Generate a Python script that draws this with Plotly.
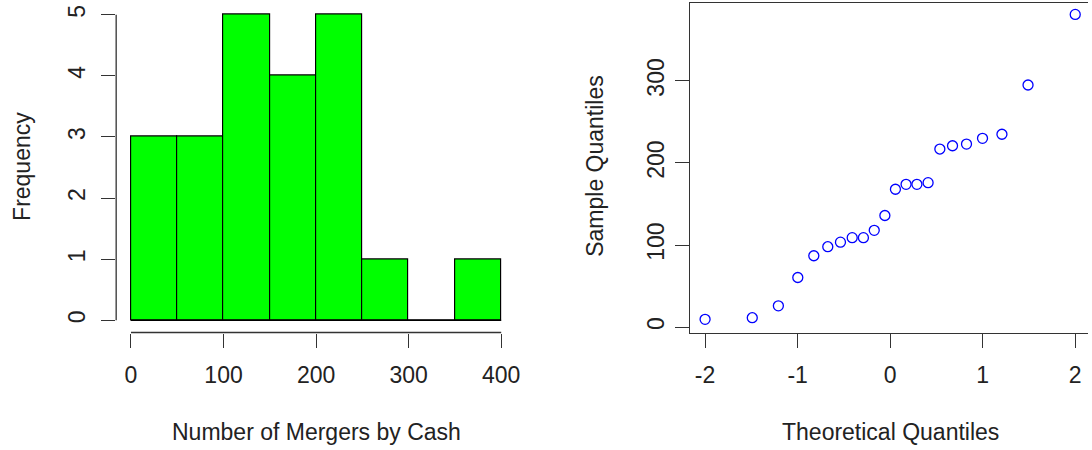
import plotly.graph_objects as go

# ---- data ----
bin_edges = [0, 50, 100, 150, 200, 250, 300, 350, 400]
hist_counts = [3, 3, 5, 4, 5, 1, 0, 1]
hist_xticks = [0, 100, 200, 300, 400]
hist_yticks = [0, 1, 2, 3, 4, 5]

theoretical_q = [-2.000, -1.490, -1.208, -0.998, -0.825, -0.674, -0.537, -0.410,
                 -0.289, -0.172, -0.057, 0.057, 0.172, 0.289, 0.410, 0.537,
                 0.674, 0.825, 0.998, 1.208, 1.490, 2.000]
sample_q = [9.5, 11.5, 26, 60.5, 87, 98, 103.5, 109, 109, 118, 136, 168,
            174, 174, 176, 217, 221, 223, 230, 235, 295, 381]
qq_xtick_vals = [-2, -1, 0, 1, 2]
qq_xtick_text = ["-2", "-1", "0", "1", "2"]
qq_yticks = [0, 100, 200, 300]

FONT = "Liberation Sans, Arial, sans-serif"
FS = 23
AX = "#333333"
W, H = 1092, 450

centers = [(a + b) / 2 for a, b in zip(bin_edges[:-1], bin_edges[1:])]
widths = [b - a for a, b in zip(bin_edges[:-1], bin_edges[1:])]

fig = go.Figure()
fig.add_trace(go.Bar(x=centers, y=hist_counts, width=widths,
                     marker=dict(color="#00FF00", line=dict(color="#000000", width=1.2)),
                     xaxis="x", yaxis="y", showlegend=False, hoverinfo="x+y"))
fig.add_trace(go.Scatter(x=theoretical_q, y=sample_q, mode="markers",
                         marker=dict(symbol="circle-open", size=10, color="#0000FF",
                                     line=dict(width=1.3, color="#0000FF")),
                         xaxis="x2", yaxis="y2", showlegend=False, cliponaxis=False))

ydom = [(H - 332.5) / H, (H - 2.5) / H]
common = dict(ticks="outside", ticklen=14, tickwidth=1.3, tickcolor=AX,
              showgrid=False, zeroline=False,
              tickfont=dict(family=FONT, size=FS, color="#222222"))

x0lo, x0hi = -16, 416
fig.update_layout(
    width=W, height=H,
    margin=dict(l=0, r=0, t=0, b=0),
    paper_bgcolor="white", plot_bgcolor="white",
    bargap=0,
    xaxis=dict(domain=[116.6 / W, 517.9 / W], range=[x0lo, x0hi],
               tickvals=hist_xticks, showline=False, ticklabelstandoff=8, **common),
    yaxis=dict(domain=ydom, range=[-0.2, 5.2], tickvals=hist_yticks,
               tickangle=-90, showline=False, ticklabelstandoff=7, **common),
    xaxis2=dict(domain=[693 / W, 1.0], range=[-2.158, 2.138],
                tickvals=qq_xtick_vals, ticktext=qq_xtick_text,
                showline=True, linecolor=AX, linewidth=1.3, mirror=True,
                anchor="y2", ticklabelstandoff=8, **common),
    yaxis2=dict(domain=ydom, range=[-6.5, 395.5], tickvals=qq_yticks,
                tickangle=-90, showline=True, linecolor=AX, linewidth=1.3,
                anchor="x2", ticklabelstandoff=2, **common),
)

# R-style axis lines spanning only the tick range of the histogram
fig.add_shape(type="line", xref="x", yref="y domain",
              x0=hist_xticks[0], x1=hist_xticks[-1], y0=0, y1=0,
              line=dict(color=AX, width=1.3))
fig.add_shape(type="line", xref="x domain", yref="y",
              x0=0, x1=0, y0=hist_yticks[0], y1=hist_yticks[-1],
              line=dict(color=AX, width=1.3))
# bottom border of the empty bin (R draws a flat rectangle)
fig.add_shape(type="line", xref="x", yref="y",
              x0=bin_edges[0], x1=bin_edges[-1], y0=0, y1=0,
              line=dict(color="#000000", width=1.2), layer="above")

tf = dict(family=FONT, size=FS, color="#222222")
fig.add_annotation(text="Number of Mergers by Cash", xref="paper", yref="paper",
                   x=317.3 / W, y=(H - 432) / H, showarrow=False, font=tf,
                   xanchor="center", yanchor="middle")
fig.add_annotation(text="Frequency", xref="paper", yref="paper",
                   x=22 / W, y=(H - 166) / H, showarrow=False, font=tf, textangle=-90,
                   xanchor="center", yanchor="middle")
fig.add_annotation(text="Theoretical Quantiles", xref="paper", yref="paper",
                   x=893.5 / W, y=(H - 432) / H, showarrow=False, font=tf,
                   xanchor="center", yanchor="middle")
fig.add_annotation(text="Sample Quantiles", xref="paper", yref="paper",
                   x=597 / W, y=(H - 166) / H, showarrow=False, font=tf, textangle=-90,
                   xanchor="center", yanchor="middle")

fig.write_html("out.html", config={"displayModeBar": False},
               post_script="document.body.style.margin='0';document.body.style.padding='0';document.body.style.overflow='hidden';")
